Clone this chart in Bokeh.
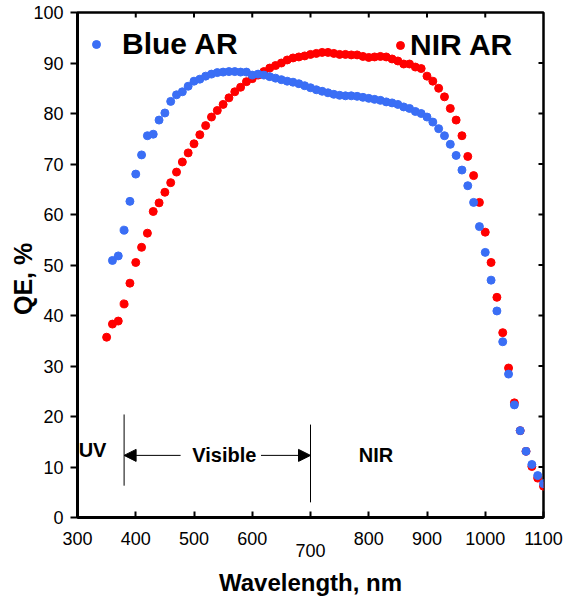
from bokeh.plotting import figure
from bokeh.models import (LinearAxis, FixedTicker, Legend, LegendItem, Label,
                          Arrow, NormalHead)
from bokeh.embed import file_html
from bokeh.resources import INLINE

# Quantum efficiency vs wavelength for two anti-reflection coatings
wl_blue = [360, 370, 380, 390, 400, 410, 420, 430, 440, 450, 460, 470, 480, 490,
           500, 510, 520, 530, 540, 550, 560, 570, 580, 590, 600, 610, 620, 630,
           640, 650, 660, 670, 680, 690, 700, 710, 720, 730, 740, 750, 760, 770,
           780, 790, 800, 810, 820, 830, 840, 850, 860, 870, 880, 890, 900, 910,
           920, 930, 940, 950, 960, 970, 980, 990, 1000, 1010, 1020, 1030, 1040,
           1050, 1060, 1070, 1080, 1090, 1100]
qe_blue = [50.9, 51.8, 56.9, 62.6, 68.0, 71.8, 75.6, 75.9, 78.7, 80.1, 82.4, 83.7,
           84.3, 85.4, 86.4, 86.8, 87.4, 87.8, 88.1, 88.2, 88.3, 88.3, 88.2, 88.2,
           87.6, 87.8, 87.6, 87.3, 87.0, 86.7, 86.4, 86.2, 85.9, 85.5, 85.1, 84.7,
           84.4, 84.1, 83.8, 83.6, 83.5, 83.5, 83.4, 83.2, 83.0, 82.8, 82.6, 82.3,
           82.1, 81.8, 81.3, 81.0, 80.4, 80.0, 79.3, 78.3, 77.0, 75.6, 73.9, 71.7,
           68.8, 65.7, 62.4, 57.6, 52.5, 47.0, 40.9, 34.8, 28.4, 22.3, 17.2, 13.1,
           10.5, 8.3, 6.7]

wl_nir = [350, 360, 370, 380, 390, 400, 410, 420, 430, 440, 450, 460, 470, 480,
          490, 500, 510, 520, 530, 540, 550, 560, 570, 580, 590, 600, 610, 620,
          630, 640, 650, 660, 670, 680, 690, 700, 710, 720, 730, 740, 750, 760,
          770, 780, 790, 800, 810, 820, 830, 840, 850, 860, 870, 880, 890, 900,
          910, 920, 930, 940, 950, 960, 970, 980, 990, 1000, 1010, 1020, 1030,
          1040, 1050, 1060, 1070, 1080, 1090, 1100]
qe_nir = [35.7, 38.3, 38.9, 42.3, 46.4, 50.5, 53.5, 56.3, 60.6, 62.3, 64.4, 66.3,
          68.4, 70.4, 72.2, 74.0, 75.8, 77.6, 79.3, 80.6, 81.8, 83.1, 84.3, 85.2,
          86.3, 86.9, 87.6, 88.3, 89.0, 89.5, 90.0, 90.6, 91.0, 91.2, 91.4, 91.7,
          91.9, 92.1, 92.1, 91.9, 91.7, 91.7, 91.6, 91.6, 91.3, 91.1, 91.2, 91.3,
          91.2, 90.8, 90.4, 89.8, 89.8, 89.2, 88.9, 87.4, 86.4, 85.0, 83.3, 81.0,
          78.7, 75.6, 71.5, 67.7, 62.4, 56.5, 50.5, 43.6, 36.6, 29.6, 22.7, 17.2,
          13.1, 10.1, 7.8, 6.2]

x_ticks = [300, 400, 500, 600, 700, 800, 900, 1000, 1100]
y_ticks = [0, 10, 20, 30, 40, 50, 60, 70, 80, 90, 100]
top_ticks = [400, 500, 600, 700, 800, 900, 1000]
right_ticks = [10, 20, 30, 40, 50, 60, 70, 80, 90]

# Spectral band boundaries
uv_edge = 380
nir_edge = 700

FONT = "Liberation Sans"
BLUE = "#3A6EF5"
RED = "#FF0000"

p = figure(width=569, height=598, x_range=(300, 1100), y_range=(0, 100),
           x_axis_type=None, y_axis_type=None,
           output_backend="svg", toolbar_location=None,
           min_border_left=77, min_border_right=26,
           min_border_top=12, min_border_bottom=80)
p.outline_line_color = "black"
p.outline_line_width = 2.5
p.xgrid.visible = False
p.ygrid.visible = False
p.background_fill_color = "white"
p.border_fill_color = "white"

# Bottom axis; the 700 label is dropped half a line below its neighbours
xb = LinearAxis(ticker=FixedTicker(ticks=x_ticks), axis_label="Wavelength, nm")
xb.major_label_overrides = {700: "\n700"}
xb.major_label_text_line_height = 0.6
xb.axis_line_width = 3
xb.major_tick_in = 6
xb.major_tick_out = 0
xb.major_tick_line_width = 2
xb.minor_tick_line_color = None
xb.major_label_text_font = FONT
xb.major_label_text_font_size = "18px"
xb.major_label_text_color = "black"
xb.major_label_standoff = 11
xb.axis_label_text_font = FONT
xb.axis_label_text_font_style = "bold"
xb.axis_label_text_font_size = "24px"
xb.axis_label_text_color = "black"
xb.axis_label_standoff = 5
p.add_layout(xb, "below")

yl = LinearAxis(ticker=FixedTicker(ticks=y_ticks), axis_label="QE, %\u00a0\u00a0\u00a0\u00a0")
yl.axis_line_width = 3
yl.major_tick_in = 0
yl.major_tick_out = 7
yl.major_tick_line_width = 2
yl.minor_tick_line_color = None
yl.major_label_text_font = FONT
yl.major_label_text_font_size = "18px"
yl.major_label_text_color = "black"
yl.major_label_standoff = 7
yl.axis_label_text_font = FONT
yl.axis_label_text_font_style = "bold"
yl.axis_label_text_font_size = "25px"
yl.axis_label_text_color = "black"
yl.axis_label_standoff = -7
p.add_layout(yl, "left")

# Inward ticks on the top and right edges of the frame (half-clipped dashes)
p.scatter(top_ticks, [100] * len(top_ticks), marker="dash", angle=1.5708,
          size=10, line_color="black", line_width=2)
p.scatter([1100] * len(right_ticks), right_ticks, marker="dash",
          size=10, line_color="black", line_width=2)

# Data series
r_nir = p.scatter(wl_nir, qe_nir, size=8, color=RED, line_color=RED)
r_blue = p.scatter(wl_blue, qe_blue, size=8, color=BLUE, line_color=BLUE)

# Series headings with their markers
for item_label, rend, loc, standoff in [("Blue AR", r_blue, (9, 456), 16),
                                        ("NIR AR", r_nir, (313, 455), 0)]:
    lg = Legend(items=[LegendItem(label=item_label, renderers=[rend])],
                location=loc, padding=0, margin=0, spacing=0,
                glyph_width=20, glyph_height=20, label_standoff=standoff,
                label_text_font=FONT, label_text_font_style="bold",
                label_text_font_size="30px", label_text_color="black",
                border_line_color=None, background_fill_alpha=0)
    p.add_layout(lg)

# Band boundaries and arrows
p.segment(x0=[uv_edge, nir_edge], y0=[6.3, 3.0], x1=[uv_edge, nir_edge],
          y1=[20.4, 18.4], line_color="black", line_width=1)
p.add_layout(Arrow(end=NormalHead(size=12, fill_color="black", line_color="black"),
                   x_start=477, y_start=12.3, x_end=uv_edge, y_end=12.3,
                   line_color="black", line_width=1))
p.add_layout(Arrow(end=NormalHead(size=12, fill_color="black", line_color="black"),
                   x_start=615, y_start=12.3, x_end=nir_edge, y_end=12.3,
                   line_color="black", line_width=1))

for txt, x, y, align in [("UV", 302, 13.3, "left"),
                         ("Visible", 552, 12.4, "center"),
                         ("NIR", 783, 12.4, "left")]:
    p.add_layout(Label(x=x, y=y, text=txt, text_align=align, text_baseline="middle",
                       text_font=FONT, text_font_style="bold",
                       text_font_size="20px", text_color="black"))

open("out.html", "w").write(file_html(p, INLINE))
